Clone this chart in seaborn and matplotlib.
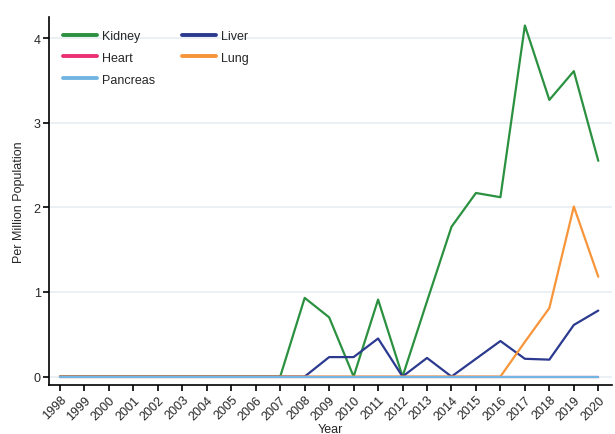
import numpy as np
import pandas as pd
import seaborn as sns
import matplotlib
matplotlib.use("Agg")
import matplotlib.pyplot as plt

years = list(range(1998, 2021))
kidney = [0, 0, 0, 0, 0, 0, 0, 0, 0, 0, 0.93, 0.70, 0, 0.91, 0, 0.89, 1.77, 2.17, 2.12, 4.15, 3.27, 3.61, 2.55]
liver = [0, 0, 0, 0, 0, 0, 0, 0, 0, 0, 0, 0.23, 0.23, 0.45, 0, 0.22, 0, 0.21, 0.42, 0.21, 0.20, 0.61, 0.78]
heart = [0] * 23
lung = [0, 0, 0, 0, 0, 0, 0, 0, 0, 0, 0, 0, 0, 0, 0, 0, 0, 0, 0, 0.41, 0.81, 2.01, 1.18]
pancreas = [0] * 23

organs = ["Kidney", "Liver", "Heart", "Lung", "Pancreas"]
colors = ["#2b9140", "#2b3a8f", "#ec2f72", "#f7953a", "#72b5e3"]

series = {"Kidney": kidney, "Liver": liver, "Heart": heart, "Lung": lung, "Pancreas": pancreas}
df = pd.concat(
    [pd.DataFrame({"Year": years, "Value": v, "Organ": k}) for k, v in series.items()],
    ignore_index=True,
)

sns.set_theme(style="white")
plt.rcParams["font.family"] = ["Liberation Sans", "DejaVu Sans"]

fig = plt.figure(figsize=(6.15, 4.35), dpi=100)
ax = fig.add_axes([0.0797, 0.1126, 0.915, 0.846])

sns.lineplot(data=df, x="Year", y="Value", hue="Organ", hue_order=organs,
             palette=colors, linewidth=1.6, ax=ax, legend=False)

ax.set_xlim(1998 - 0.45, 2020 + 0.55)
ax.set_ylim(-0.1, 4.25)
ax.set_yticks([0, 1, 2, 3, 4])
ax.set_xticks(years)
ax.set_xticklabels([str(y) for y in years], rotation=45, ha="right",
                   rotation_mode="anchor", fontsize=9)
ax.tick_params(axis="y", labelsize=9)
ax.tick_params(axis="both", direction="out", length=4, width=1.2, color="black",
               bottom=True, left=True, pad=2)
ax.grid(axis="y", color="#e6eef2", linewidth=1.2)
ax.set_axisbelow(True)
for side in ["top", "right"]:
    ax.spines[side].set_visible(False)
for side in ["left", "bottom"]:
    ax.spines[side].set_color("black")
    ax.spines[side].set_linewidth(1.2)

ax.set_xlabel("Year", fontsize=9, labelpad=1)
ax.set_ylabel("Per Million Population", fontsize=9, labelpad=6)

# legend laid out row by row: Kidney, Liver / Heart, Lung / Pancreas
legend_order = ["Kidney", "Heart", "Pancreas", "Liver", "Lung"]
color_of = dict(zip(organs, colors))
handles = [plt.Line2D([], [], color=color_of[o], linewidth=2.8) for o in legend_order]
ax.legend(handles, legend_order, ncol=2, loc="upper left", frameon=False,
          fontsize=9, handlelength=2.7, handletextpad=0.45, columnspacing=2.1,
          bbox_to_anchor=(0.005, 0.995), labelspacing=0.78)

fig.savefig("out.png", dpi=100)
